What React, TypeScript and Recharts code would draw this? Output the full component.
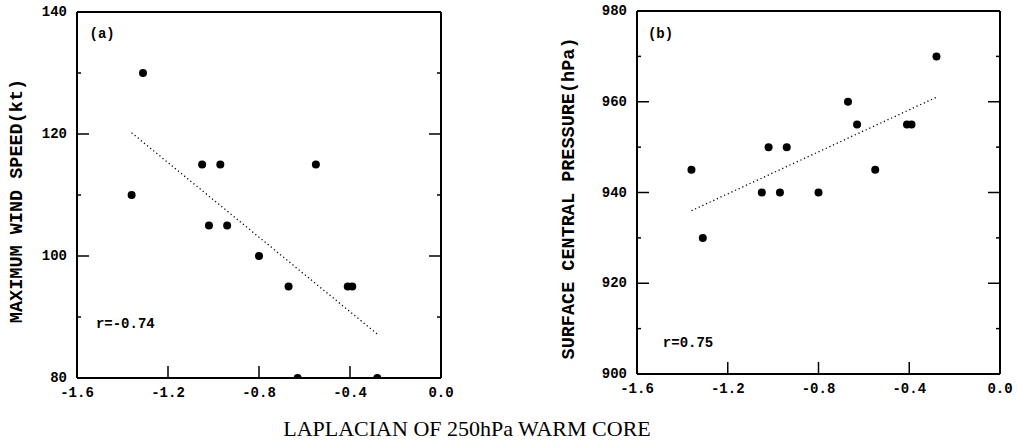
import React from 'react';
import { ScatterChart, Scatter, XAxis, YAxis, ReferenceLine, ReferenceDot, Label } from 'recharts';

// Laplacian of the 250 hPa warm core for each storm (shared by both panels)
const laplacian = [-1.36, -1.31, -1.05, -1.02, -0.97, -0.94, -0.8, -0.67, -0.63, -0.55, -0.41, -0.39, -0.28];
const maxWind = [110, 130, 115, 105, 115, 105, 100, 95, 80, 115, 95, 95, 80];
const centralPressure = [945, 930, 940, 950, 940, 950, 940, 960, 955, 945, 955, 955, 970];

// regression line end points
const fitX = [-1.36, -0.28];
const windFitY = [120.2, 87.2];
const pressureFitY = [936, 961];

const xTicks = [-1.6, -1.2, -0.8, -0.4, 0];
const windTicks = [80, 90, 100, 110, 120, 130, 140];
const windLabels = [80, 100, 120, 140];
const pressureTicks = [900, 910, 920, 930, 940, 950, 960, 970, 980];
const pressureLabels = [900, 920, 940, 960, 980];

const MONO = '"Liberation Mono", "DejaVu Sans Mono", monospace';
const tickFont = { fontFamily: MONO, fontSize: 14, fontWeight: 700, fill: '#000' };
const MAJOR = 12;
const MINOR = 4;
const AXIS = { stroke: '#000', strokeWidth: 2 };

const windData = laplacian.map((x, i) => ({ x, y: maxWind[i] }));
const pressureData = laplacian.map((x, i) => ({ x, y: centralPressure[i] }));

function BottomTick(props: any) {
    const { x, y, payload } = props;
    return (
        <g>
            <line x1={x} y1={y} x2={x} y2={y - MAJOR} stroke="#000" strokeWidth={1.5} />
            <text x={x} y={y + 15} textAnchor="middle" dominantBaseline="central" style={tickFont}>
                {Number(payload.value).toFixed(1)}
            </text>
        </g>
    );
}

function TopTick(props: any) {
    const { x, y } = props;
    return <line x1={x} y1={y} x2={x} y2={y + MAJOR} stroke="#000" strokeWidth={1.5} />;
}

const leftTick = (labels: number[]) => (props: any) => {
    const { x, y, payload } = props;
    const major = labels.includes(payload.value);
    return (
        <g>
            <line x1={x} y1={y} x2={x + (major ? MAJOR : MINOR)} y2={y} stroke="#000" strokeWidth={1.5} />
            {major && (
                <text x={x - 10} y={y} textAnchor="end" dominantBaseline="central" style={tickFont}>
                    {payload.value}
                </text>
            )}
        </g>
    );
};

const rightTick = (labels: number[]) => (props: any) => {
    const { x, y, payload } = props;
    const major = labels.includes(payload.value);
    return <line x1={x} y1={y} x2={x - (major ? MAJOR : MINOR)} y2={y} stroke="#000" strokeWidth={1.5} />;
};

const axisTitle = (text: string, dx: number) => (props: any) => {
    const { viewBox } = props;
    const cx = viewBox.x + dx;
    const cy = viewBox.y + viewBox.height / 2 + 6;
    return (
        <text
            transform={`translate(${cx},${cy}) rotate(-90)`}
            textAnchor="middle"
            dominantBaseline="central"
            style={{ fontFamily: MONO, fontSize: 18.5, fontWeight: 700, fill: '#000' }}
        >
            {text}
        </text>
    );
};

const dot = (p: any) => <circle cx={p.cx} cy={p.cy} r={4} fill="#000" />;

const noteStyle = { fontFamily: MONO, fontSize: 14, fontWeight: 700, fill: '#000' };

export default function App() {
    return (
        <div style={{ position: 'absolute', left: 0, top: 0, width: 1018, height: 447, background: '#fff' }}>
            {/* (a) maximum wind speed */}
            <div style={{ position: 'absolute', left: 0, top: 0 }}>
                <ScatterChart width={470} height={410} margin={{ top: 0, right: 0, bottom: 0, left: 0 }}>
                    <XAxis
                        dataKey="x"
                        type="number"
                        domain={[-1.6, 0]}
                        ticks={xTicks}
                        interval={0}
                        height={32}
                        tickSize={0}
                        tickMargin={0}
                        tickLine={false}
                        axisLine={AXIS}
                        tick={BottomTick}
                        allowDataOverflow
                    />
                    <XAxis
                        xAxisId="top"
                        orientation="top"
                        type="number"
                        domain={[-1.6, 0]}
                        ticks={xTicks}
                        interval={0}
                        height={12}
                        tickSize={0}
                        tickMargin={0}
                        tickLine={false}
                        axisLine={AXIS}
                        tick={TopTick}
                        allowDataOverflow
                    />
                    <YAxis
                        dataKey="y"
                        type="number"
                        domain={[80, 140]}
                        ticks={windTicks}
                        interval={0}
                        width={77}
                        tickSize={0}
                        tickMargin={0}
                        tickLine={false}
                        axisLine={AXIS}
                        tick={leftTick(windLabels)}
                        allowDataOverflow
                    >
                        <Label content={axisTitle('MAXIMUM WIND SPEED(kt)', 17.5)} />
                    </YAxis>
                    <YAxis
                        yAxisId="right"
                        orientation="right"
                        type="number"
                        domain={[80, 140]}
                        ticks={windTicks}
                        interval={0}
                        width={29}
                        tickSize={0}
                        tickMargin={0}
                        tickLine={false}
                        axisLine={AXIS}
                        tick={rightTick(windLabels)}
                        allowDataOverflow
                    />
                    <ReferenceLine
                        segment={[{ x: fitX[0], y: windFitY[0] }, { x: fitX[1], y: windFitY[1] }]}
                        stroke="#000"
                        strokeWidth={1.3}
                        strokeDasharray="1.2 2.8"
                    />
                    <Scatter data={windData} shape={dot} isAnimationActive={false} />
                    <ReferenceDot x={-1.545} y={136.5} r={0} fill="none" stroke="none"
                        label={{ value: '(a)', position: 'right', offset: 0, ...noteStyle }} />
                    <ReferenceDot x={-1.517} y={89} r={0} fill="none" stroke="none"
                        label={{ value: 'r=-0.74', position: 'right', offset: 0, ...noteStyle }} />
                </ScatterChart>
            </div>

            {/* (b) surface central pressure */}
            <div style={{ position: 'absolute', left: 520, top: 0 }}>
                <ScatterChart width={498} height={410} margin={{ top: 0, right: 0, bottom: 0, left: 0 }}>
                    <XAxis
                        dataKey="x"
                        type="number"
                        domain={[-1.6, 0]}
                        ticks={xTicks}
                        interval={0}
                        height={36}
                        tickSize={0}
                        tickMargin={0}
                        tickLine={false}
                        axisLine={AXIS}
                        tick={BottomTick}
                        allowDataOverflow
                    />
                    <XAxis
                        xAxisId="top"
                        orientation="top"
                        type="number"
                        domain={[-1.6, 0]}
                        ticks={xTicks}
                        interval={0}
                        height={11}
                        tickSize={0}
                        tickMargin={0}
                        tickLine={false}
                        axisLine={AXIS}
                        tick={TopTick}
                        allowDataOverflow
                    />
                    <YAxis
                        dataKey="y"
                        type="number"
                        domain={[900, 980]}
                        ticks={pressureTicks}
                        interval={0}
                        width={117}
                        tickSize={0}
                        tickMargin={0}
                        tickLine={false}
                        axisLine={AXIS}
                        tick={leftTick(pressureLabels)}
                        allowDataOverflow
                    >
                        <Label content={axisTitle('SURFACE CENTRAL PRESSURE(hPa)', 49)} />
                    </YAxis>
                    <YAxis
                        yAxisId="right"
                        orientation="right"
                        type="number"
                        domain={[900, 980]}
                        ticks={pressureTicks}
                        interval={0}
                        width={18}
                        tickSize={0}
                        tickMargin={0}
                        tickLine={false}
                        axisLine={AXIS}
                        tick={rightTick(pressureLabels)}
                        allowDataOverflow
                    />
                    <ReferenceLine
                        segment={[{ x: fitX[0], y: pressureFitY[0] }, { x: fitX[1], y: pressureFitY[1] }]}
                        stroke="#000"
                        strokeWidth={1.3}
                        strokeDasharray="1.2 2.8"
                    />
                    <Scatter data={pressureData} shape={dot} isAnimationActive={false} />
                    <ReferenceDot x={-1.552} y={975.2} r={0} fill="none" stroke="none"
                        label={{ value: '(b)', position: 'right', offset: 0, ...noteStyle }} />
                    <ReferenceDot x={-1.486} y={907.1} r={0} fill="none" stroke="none"
                        label={{ value: 'r=0.75', position: 'right', offset: 0, ...noteStyle }} />
                </ScatterChart>
            </div>

            <div
                style={{
                    position: 'absolute',
                    left: 0,
                    width: 934,
                    top: 416,
                    textAlign: 'center',
                    fontFamily: '"Liberation Serif", "Times New Roman", serif',
                    fontSize: 22,
                    color: '#000',
                }}
            >
                LAPLACIAN OF 250hPa WARM CORE
            </div>
        </div>
    );
}
